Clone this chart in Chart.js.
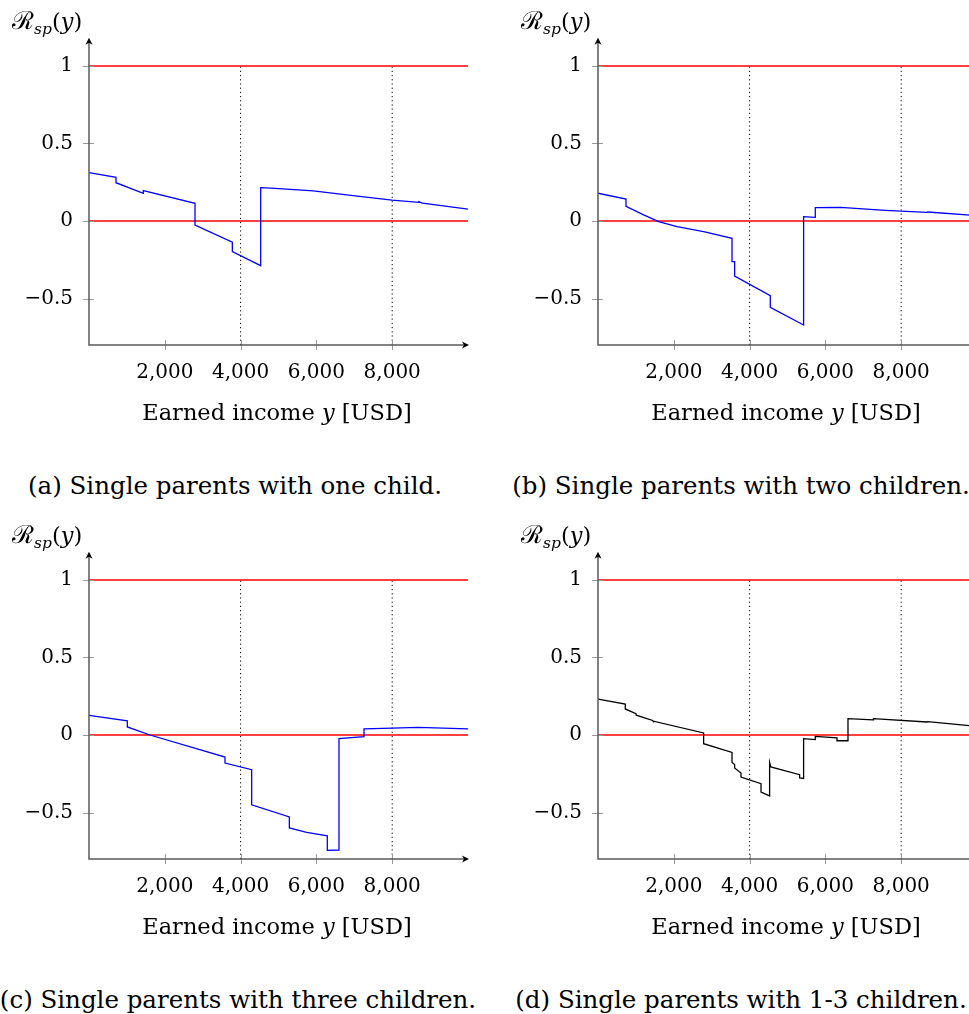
<!DOCTYPE html>
<html>
<head>
<meta charset="utf-8">
<script src="https://cdn.jsdelivr.net/npm/chart.js@4.4.1/dist/chart.umd.min.js"></script>
<style>
  html, body { margin: 0; padding: 0; background: #fff; overflow: hidden; }
  body { width: 969px; height: 1014px; position: relative; font-family: "DejaVu Serif", serif; color: #000; }
  canvas { position: absolute; }
  .txt { position: absolute; font-size: 22.5px; line-height: 30px; white-space: nowrap; transform: translateX(-50%); }
  .cap { font-size: 24.5px; }
  .ylab { position: absolute; font-size: 22.5px; line-height: 30px; white-space: nowrap; }
  .ylab .cal { font-size: 25px; }
  .ylab sub { font-size: 15.5px; font-style: italic; vertical-align: -5px; line-height: 0; }
</style>
</head>
<body>

<canvas id="chartA" width="509" height="420" style="left:0;top:0"></canvas>
<canvas id="chartB" width="509" height="420" style="left:509px;top:0"></canvas>
<canvas id="chartC" width="509" height="420" style="left:0;top:514px"></canvas>
<canvas id="chartD" width="509" height="420" style="left:509px;top:514px"></canvas>

<div class="ylab" style="left:12px;top:6px"><span class="cal">ℛ</span><sub>sp</sub>(<i>y</i>)</div>
<div class="ylab" style="left:521px;top:6px"><span class="cal">ℛ</span><sub>sp</sub>(<i>y</i>)</div>
<div class="ylab" style="left:12px;top:520px"><span class="cal">ℛ</span><sub>sp</sub>(<i>y</i>)</div>
<div class="ylab" style="left:521px;top:520px"><span class="cal">ℛ</span><sub>sp</sub>(<i>y</i>)</div>

<div class="txt" style="left:277px;top:397px">Earned income <i>y</i> [USD]</div>
<div class="txt" style="left:786px;top:397px">Earned income <i>y</i> [USD]</div>
<div class="txt" style="left:277px;top:911px">Earned income <i>y</i> [USD]</div>
<div class="txt" style="left:786px;top:911px">Earned income <i>y</i> [USD]</div>

<div class="txt cap" style="left:235px;top:471px">(a) Single parents with one child.</div>
<div class="txt cap" style="left:741px;top:471px">(b) Single parents with two children.</div>
<div class="txt cap" style="left:238px;top:985px">(c) Single parents with three children.</div>
<div class="txt cap" style="left:741px;top:985px">(d) Single parents with 1-3 children.</div>

<script>
// ---------- data ----------
const xTicks = [2000, 4000, 6000, 8000];
const yTicks = [-0.5, 0, 0.5, 1];
const refLevels = [0, 1];          // red horizontal reference lines
const markerIncomes = [4000, 8000]; // dotted vertical lines
const xMin = 0, xMax = 10000;
const yMin = -0.8, yMax = 1.15;

// (a) one child
const incomeA = [0, 712, 712, 1433, 1433, 2797, 2797, 3782, 3782, 4530, 4530, 4800, 5919, 6799, 7995, 8700, 8700, 8800, 10000];
const ratioA  = [0.312, 0.282, 0.247, 0.179, 0.196, 0.114, -0.026, -0.137, -0.198, -0.288, 0.215, 0.212, 0.194, 0.168, 0.135, 0.120, 0.124, 0.115, 0.077];

// (b) two children
const incomeB = [0, 739, 739, 1204, 1600, 2084, 2787, 3536, 3536, 3605, 3605, 4546, 4546, 5425, 5425, 5733, 5733, 6392, 7580, 8680, 8700, 10000];
const ratioB  = [0.179, 0.142, 0.095, 0.039, -0.004, -0.037, -0.069, -0.112, -0.262, -0.262, -0.355, -0.482, -0.557, -0.671, 0.028, 0.024, 0.086, 0.088, 0.069, 0.056, 0.058, 0.035];

// (c) three children
const incomeC = [0, 1011, 1011, 1609, 3588, 3588, 4292, 4292, 5286, 5286, 5744, 6288, 6288, 6596, 6596, 7256, 7256, 8000, 8689, 10000];
const ratioC  = [0.127, 0.092, 0.052, 0.0, -0.142, -0.181, -0.224, -0.450, -0.529, -0.600, -0.628, -0.650, -0.744, -0.742, -0.024, -0.011, 0.039, 0.045, 0.049, 0.039];

// (d) 1-3 children
const incomeD = [0, 720, 720, 1002, 1010, 1441, 1450, 2787, 2787, 3536, 3536, 3605, 3605, 3773, 3773, 4301, 4301, 4528, 4528, 4560, 5320, 5320, 5425, 5425, 5733, 5733, 6306, 6306, 6596, 6596, 7256, 7270, 8680, 8700, 10000];
const ratioD  = [0.232, 0.200, 0.168, 0.137, 0.128, 0.094, 0.090, 0.013, -0.056, -0.112, -0.177, -0.190, -0.213, -0.245, -0.271, -0.314, -0.368, -0.393, -0.177, -0.206, -0.256, -0.277, -0.280, -0.024, -0.030, -0.009, -0.019, -0.037, -0.037, 0.105, 0.097, 0.105, 0.084, 0.086, 0.055];

const tickFont = { family: 'DejaVu Serif', size: 20 };

// ---------- axis lines with arrows and crossing tick marks ----------
const axisArrows = {
  id: 'axisArrows',
  afterDraw(chart) {
    const { ctx, chartArea: a, scales: { x, y } } = chart;
    const x0 = x.getPixelForValue(xMin);
    const yb = y.getPixelForValue(yMin);
    ctx.save();

    ctx.strokeStyle = '#9a9a9a';
    ctx.lineWidth = 1;
    xTicks.forEach(v => {
      const px = Math.round(x.getPixelForValue(v)) + 0.5;
      ctx.beginPath(); ctx.moveTo(px, yb - 5); ctx.lineTo(px, yb + 5); ctx.stroke();
    });
    yTicks.forEach(v => {
      const py = Math.round(y.getPixelForValue(v)) + 0.5;
      ctx.beginPath(); ctx.moveTo(x0 - 6, py); ctx.lineTo(x0 + 5, py); ctx.stroke();
    });

    const topTip = a.top - 5, rightTip = a.right + 1;
    ctx.strokeStyle = '#5a5a5a';
    ctx.lineWidth = 1.5;
    ctx.beginPath();
    ctx.moveTo(x0, topTip + 2); ctx.lineTo(x0, yb); ctx.lineTo(rightTip - 2, yb);
    ctx.stroke();

    // arrow heads
    ctx.fillStyle = '#000';
    ctx.beginPath();
    ctx.moveTo(x0, topTip); ctx.lineTo(x0 - 3.5, topTip + 7); ctx.lineTo(x0, topTip + 5); ctx.lineTo(x0 + 3.5, topTip + 7);
    ctx.closePath(); ctx.fill();
    ctx.beginPath();
    ctx.moveTo(rightTip, yb); ctx.lineTo(rightTip - 7, yb - 3.5); ctx.lineTo(rightTip - 5, yb); ctx.lineTo(rightTip - 7, yb + 3.5);
    ctx.closePath(); ctx.fill();
    ctx.restore();
  }
};

function fmtRatio(v) {
  return v < 0 ? '\u2212' + Math.abs(v) : String(v);
}

function makeChart(id, income, ratio, color) {
  const datasets = [{
    data: income.map((v, i) => ({ x: v, y: ratio[i] })),
    borderColor: color,
    borderWidth: 1.3
  }];
  refLevels.forEach(lv => datasets.push({
    data: [{ x: xMin, y: lv }, { x: xMax, y: lv }],
    borderColor: '#ff0000',
    borderWidth: 1.3
  }));
  markerIncomes.forEach(m => datasets.push({
    data: [{ x: m, y: yMin }, { x: m, y: 1 }],
    borderColor: '#000',
    borderWidth: 1,
    borderDash: [1.2, 3]
  }));

  return new Chart(document.getElementById(id), {
    type: 'line',
    data: { datasets },
    plugins: [axisArrows],
    options: {
      responsive: false,
      animation: false,
      devicePixelRatio: 1,
      layout: { padding: { left: 0, top: 42.75, right: 41, bottom: 0 } },
      elements: { point: { radius: 0 }, line: { tension: 0 } },
      plugins: { legend: { display: false }, tooltip: { enabled: false } },
      scales: {
        x: {
          type: 'linear', min: xMin, max: xMax,
          afterBuildTicks: s => { s.ticks = xTicks.map(v => ({ value: v })); },
          afterFit: s => { s.height = 75; },
          grid: { display: false, drawTicks: false },
          border: { display: false },
          ticks: {
            autoSkip: false, maxRotation: 0, padding: 16, color: '#000',
            font: tickFont,
            callback: v => v.toLocaleString('en-US')
          }
        },
        y: {
          type: 'linear', min: yMin, max: yMax,
          afterBuildTicks: s => { s.ticks = yTicks.map(v => ({ value: v })); },
          afterFit: s => { s.width = 89; },
          grid: { display: false, drawTicks: false },
          border: { display: false },
          ticks: {
            padding: 16, color: '#000',
            font: tickFont,
            callback: fmtRatio
          }
        }
      }
    }
  });
}

makeChart('chartA', incomeA, ratioA, '#0000ff');
makeChart('chartB', incomeB, ratioB, '#0000ff');
makeChart('chartC', incomeC, ratioC, '#0000ff');
makeChart('chartD', incomeD, ratioD, '#000000');
</script>
</body>
</html>
